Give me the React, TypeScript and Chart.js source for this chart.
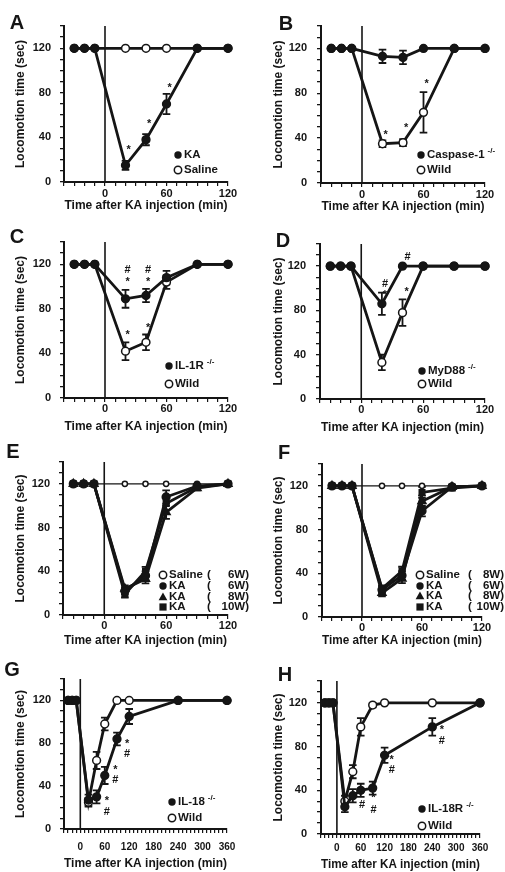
import React, { useEffect, useRef } from 'react';
import { Chart, registerables } from 'chart.js';

Chart.register(...registerables);

// ---------- data ----------
const timesShort = [-30, -20, -10, 20, 40, 60, 90, 120];
const timesLong = [-30, -20, -10, 20, 40, 60, 90, 120, 240, 360];
const yLabeled = [0, 40, 80, 120];
const xLabeledShort = [0, 60, 120];
const xLabeledLong = [0, 60, 120, 180, 240, 300, 360];

// A
const aKA = [120, 120, 120, 15, 38, 70, 120, 120];
const aKAErr = [0, 0, 0, 4, 5, 9, 0, 0];
const aSaline = [120, 120, 120, 120, 120, 120, 120, 120];
// B
const bCasp = [120, 120, 120, 113, 112, 120, 120, 120];
const bCaspErr = [0, 0, 0, 6, 6, 0, 0, 0];
const bWild = [120, 120, 120, 35, 36, 63, 120, 120];
const bWildErr = [0, 0, 0, 3, 3, 18, 0, 0];
// C
const cIL1R = [120, 120, 120, 89, 92, 108, 120, 120];
const cIL1RErr = [0, 0, 0, 8, 6, 6, 0, 0];
const cWild = [120, 120, 120, 42, 50, 104, 120, 120];
const cWildErr = [0, 0, 0, 8, 7, 6, 0, 0];
// D
const dMyD88 = [120, 120, 120, 86, 120, 120, 120, 120];
const dMyD88Err = [0, 0, 0, 10, 0, 0, 0, 0];
const dWild = [120, 120, 120, 33, 78, 120, 120, 120];
const dWildErr = [0, 0, 0, 7, 12, 0, 0, 0];
// E
const eSaline6 = [120, 120, 120, 120, 120, 120, 120, 120];
const eKA6 = [120, 120, 120, 22, 36, 108, 118, 120];
const eKA8 = [120, 120, 120, 24, 33, 94, 116, 120];
const eKA10 = [120, 120, 120, 19, 40, 102, 117, 120];
const eKAErr = [0, 0, 0, 3, 4, 6, 2, 0];
// F
const fSaline8 = [120, 120, 120, 120, 120, 120, 120, 120];
const fKA6 = [120, 120, 120, 25, 38, 97, 119, 120];
const fKA8 = [120, 120, 120, 22, 35, 106, 119, 120];
const fKA10 = [120, 120, 120, 26, 42, 114, 118, 120];
const fKAErr = [0, 0, 0, 3, 4, 5, 2, 0];
// G
const gIL18 = [120, 120, 120, 27, 30, 50, 84, 105, 120, 120];
const gIL18Err = [0, 0, 0, 5, 6, 8, 6, 7, 0, 0];
const gWild = [120, 120, 120, 25, 64, 98, 120, 120, 120, 120];
const gWildErr = [0, 0, 0, 4, 8, 6, 0, 0, 0, 0];
// H
const hIL18R = [120, 120, 120, 25, 35, 40, 42, 72, 98, 120];
const hIL18RErr = [0, 0, 0, 5, 6, 6, 6, 7, 8, 0];
const hWild = [120, 120, 120, 30, 57, 98, 118, 120, 120, 120];
const hWildErr = [0, 0, 0, 5, 6, 8, 2, 0, 0, 0];

// significance marks (data coordinates)
const aNotes = [{ x: 23, y: 29, t: '*' }, { x: 43, y: 52, t: '*' }, { x: 63, y: 84, t: '*' }];
const bNotes = [{ x: 23, y: 43, t: '*' }, { x: 43, y: 49, t: '*' }, { x: 63, y: 88, t: '*' }];
const cNotes = [
  { x: 22, y: 115, t: '#' }, { x: 22, y: 104, t: '*' },
  { x: 42, y: 115, t: '#' }, { x: 42, y: 104, t: '*' },
  { x: 22, y: 57, t: '*' }, { x: 42, y: 63, t: '*' },
];
const dNotes = [
  { x: 23, y: 104, t: '#' }, { x: 23, y: 94, t: '*' },
  { x: 45, y: 128, t: '#' }, { x: 44, y: 97, t: '*' },
];
const gNotes = [
  { x: 65, y: 26, t: '*' }, { x: 65, y: 16, t: '#' },
  { x: 86, y: 55, t: '*' }, { x: 86, y: 46, t: '#' },
  { x: 115, y: 79, t: '*' }, { x: 115, y: 70, t: '#' },
];
const hNotes = [
  { x: 63, y: 36, t: '*' }, { x: 63, y: 27, t: '#' },
  { x: 92, y: 33, t: '*' }, { x: 92, y: 22, t: '#' },
  { x: 138, y: 68, t: '*' }, { x: 138, y: 59, t: '#' },
  { x: 264, y: 95, t: '*' }, { x: 264, y: 85, t: '#' },
];

// ---------- styles / layout ----------
const INK = '#151515';
const FONT = '"Liberation Sans", Arial, Helvetica, sans-serif';
const X_TITLE = 'Time after KA injection (min)';
const Y_TITLE = 'Locomotion time (sec)';

type Kind = 'filled' | 'open' | 'openSmall' | 'tri' | 'square';
type Series = { values: number[]; err?: number[]; kind: Kind; thin?: boolean };
type LegendItem = { kind: Kind; label: string; sup?: string; paren?: string };
type Panel = {
  id: string;
  times: number[];
  xMax: number;
  xLabels: number[];
  series: Series[];
  notes: { x: number; y: number; t: string }[];
  legend: LegendItem[];
  box: { cx: number; cy: number; cw: number; ch: number; L: number; R: number; T: number; B: number };
  xLabelY: number; xTitleY: number; yTitleX: number; xTickFont: number;
  letter: [number, number];
  legendPos: { mx: number; ys: number[]; parenX?: number; endX?: number };
};

const panels: Panel[] = [
  {
    id: 'A', times: timesShort, xMax: 120, xLabels: xLabeledShort,
    series: [
      { values: aKA, err: aKAErr, kind: 'filled' },
      { values: aSaline, kind: 'open' },
    ],
    notes: aNotes,
    legend: [{ kind: 'filled', label: 'KA' }, { kind: 'open', label: 'Saline' }],
    box: { cx: 0, cy: 0, cw: 252, ch: 214, L: 64, R: 228, T: 26, B: 182 },
    xLabelY: 194, xTitleY: 206, yTitleX: 21, xTickFont: 11, letter: [17, 23],
    legendPos: { mx: 178, ys: [155, 170] },
  },
  {
    id: 'B', times: timesShort, xMax: 120, xLabels: xLabeledShort,
    series: [
      { values: bCasp, err: bCaspErr, kind: 'filled' },
      { values: bWild, err: bWildErr, kind: 'open' },
    ],
    notes: bNotes,
    legend: [{ kind: 'filled', label: 'Caspase-1', sup: '-/-' }, { kind: 'open', label: 'Wild' }],
    box: { cx: 252, cy: 0, cw: 253, ch: 214, L: 321, R: 485, T: 26, B: 183 },
    xLabelY: 195, xTitleY: 207, yTitleX: 279, xTickFont: 11, letter: [286, 24],
    legendPos: { mx: 421, ys: [155, 170] },
  },
  {
    id: 'C', times: timesShort, xMax: 120, xLabels: xLabeledShort,
    series: [
      { values: cIL1R, err: cIL1RErr, kind: 'filled' },
      { values: cWild, err: cWildErr, kind: 'open' },
    ],
    notes: cNotes,
    legend: [{ kind: 'filled', label: 'IL-1R', sup: '-/-' }, { kind: 'open', label: 'Wild' }],
    box: { cx: 0, cy: 214, cw: 252, ch: 222, L: 64, R: 228, T: 242, B: 398 },
    xLabelY: 409, xTitleY: 427, yTitleX: 21, xTickFont: 11, letter: [17, 237],
    legendPos: { mx: 169, ys: [366, 384] },
  },
  {
    id: 'D', times: timesShort, xMax: 120, xLabels: xLabeledShort,
    series: [
      { values: dMyD88, err: dMyD88Err, kind: 'filled' },
      { values: dWild, err: dWildErr, kind: 'open' },
    ],
    notes: dNotes,
    legend: [{ kind: 'filled', label: 'MyD88', sup: '-/-' }, { kind: 'open', label: 'Wild' }],
    box: { cx: 252, cy: 214, cw: 253, ch: 222, L: 320, R: 485, T: 244, B: 399 },
    xLabelY: 410, xTitleY: 428, yTitleX: 279, xTickFont: 11, letter: [283, 241],
    legendPos: { mx: 422, ys: [371, 384] },
  },
  {
    id: 'E', times: timesShort, xMax: 120, xLabels: xLabeledShort,
    series: [
      { values: eKA8, err: eKAErr, kind: 'tri' },
      { values: eKA6, err: eKAErr, kind: 'filled' },
      { values: eKA10, err: eKAErr, kind: 'square' },
      { values: eSaline6, kind: 'openSmall', thin: true },
    ],
    notes: [],
    legend: [
      { kind: 'open', label: 'Saline', paren: ' 6W)' },
      { kind: 'filled', label: 'KA', paren: ' 6W)' },
      { kind: 'tri', label: 'KA', paren: ' 8W)' },
      { kind: 'square', label: 'KA', paren: '10W)' },
    ],
    box: { cx: 0, cy: 436, cw: 252, ch: 213, L: 63, R: 228, T: 462, B: 615 },
    xLabelY: 626, xTitleY: 641, yTitleX: 21, xTickFont: 11, letter: [13, 452],
    legendPos: { mx: 163, ys: [575, 586, 597, 607], parenX: 207, endX: 249 },
  },
  {
    id: 'F', times: timesShort, xMax: 120, xLabels: xLabeledShort,
    series: [
      { values: fKA6, err: fKAErr, kind: 'filled' },
      { values: fKA8, err: fKAErr, kind: 'tri' },
      { values: fKA10, err: fKAErr, kind: 'square' },
      { values: fSaline8, kind: 'openSmall', thin: true },
    ],
    notes: [],
    legend: [
      { kind: 'open', label: 'Saline', paren: ' 8W)' },
      { kind: 'filled', label: 'KA', paren: ' 6W)' },
      { kind: 'tri', label: 'KA', paren: ' 8W)' },
      { kind: 'square', label: 'KA', paren: '10W)' },
    ],
    box: { cx: 252, cy: 436, cw: 253, ch: 213, L: 322, R: 482, T: 464, B: 617 },
    xLabelY: 628, xTitleY: 641, yTitleX: 279, xTickFont: 11, letter: [284, 453],
    legendPos: { mx: 420, ys: [575, 586, 596, 607], parenX: 468, endX: 504 },
  },
  {
    id: 'G', times: timesLong, xMax: 360, xLabels: xLabeledLong,
    series: [
      { values: gIL18, err: gIL18Err, kind: 'filled' },
      { values: gWild, err: gWildErr, kind: 'open' },
    ],
    notes: gNotes,
    legend: [{ kind: 'filled', label: 'IL-18', sup: '-/-' }, { kind: 'open', label: 'Wild' }],
    box: { cx: 0, cy: 649, cw: 252, ch: 223, L: 64, R: 227, T: 679, B: 829 },
    xLabelY: 847, xTitleY: 864, yTitleX: 21, xTickFont: 10, letter: [12, 670],
    legendPos: { mx: 172, ys: [802, 818] },
  },
  {
    id: 'H', times: timesLong, xMax: 360, xLabels: xLabeledLong,
    series: [
      { values: hIL18R, err: hIL18RErr, kind: 'filled' },
      { values: hWild, err: hWildErr, kind: 'open' },
    ],
    notes: hNotes,
    legend: [{ kind: 'filled', label: 'IL-18R', sup: '-/-' }, { kind: 'open', label: 'Wild' }],
    box: { cx: 252, cy: 649, cw: 253, ch: 223, L: 321, R: 480, T: 681, B: 834 },
    xLabelY: 848, xTitleY: 865, yTitleX: 279, xTickFont: 10, letter: [285, 675],
    legendPos: { mx: 422, ys: [809, 826] },
  },
];

// ---------- drawing helpers ----------
function drawMarker(ctx: CanvasRenderingContext2D, kind: Kind, x: number, y: number) {
  ctx.save();
  ctx.fillStyle = INK;
  ctx.strokeStyle = INK;
  ctx.lineWidth = 1.5;
  ctx.beginPath();
  if (kind === 'tri') {
    const r = 4.6;
    ctx.moveTo(x, y - r);
    ctx.lineTo(x + r * 0.95, y + r * 0.7);
    ctx.lineTo(x - r * 0.95, y + r * 0.7);
    ctx.closePath();
    ctx.fill();
  } else if (kind === 'square') {
    ctx.rect(x - 3.6, y - 3.6, 7.2, 7.2);
    ctx.fill();
  } else {
    ctx.arc(x, y, 3.7, 0, Math.PI * 2);
    if (kind === 'filled') ctx.fill();
    else {
      ctx.fillStyle = '#fff';
      ctx.fill();
      ctx.stroke();
    }
  }
  ctx.restore();
}

function makeDecor(p: Panel) {
  const { cx, cy } = p.box;
  return {
    id: 'decor' + p.id,
    beforeDatasetsDraw(chart: any) {
      const ctx: CanvasRenderingContext2D = chart.ctx;
      const xs = chart.scales.x;
      const ys = chart.scales.y;
      ctx.save();
      ctx.strokeStyle = INK;
      // vertical line at injection time
      ctx.lineWidth = 1.6;
      const x0 = xs.getPixelForValue(0);
      ctx.beginPath();
      ctx.moveTo(x0, ys.getPixelForValue(0));
      ctx.lineTo(x0, ys.getPixelForValue(140));
      ctx.stroke();
      // error bars
      ctx.lineWidth = 1.8;
      p.series.forEach((s) => {
        if (!s.err) return;
        s.values.forEach((v, i) => {
          const e = s.err![i];
          if (!e) return;
          const x = xs.getPixelForValue(p.times[i]);
          const y1 = ys.getPixelForValue(v + e);
          const y2 = ys.getPixelForValue(v - e);
          ctx.beginPath();
          ctx.moveTo(x, y1); ctx.lineTo(x, y2);
          ctx.moveTo(x - 3.8, y1); ctx.lineTo(x + 3.8, y1);
          ctx.moveTo(x - 3.8, y2); ctx.lineTo(x + 3.8, y2);
          ctx.stroke();
        });
      });
      ctx.restore();
    },
    afterDraw(chart: any) {
      const ctx: CanvasRenderingContext2D = chart.ctx;
      const xs = chart.scales.x;
      const ys = chart.scales.y;
      ctx.save();
      ctx.fillStyle = INK;
      // significance marks
      ctx.font = `bold 11px ${FONT}`;
      ctx.textAlign = 'center';
      ctx.textBaseline = 'middle';
      p.notes.forEach((n) => {
        ctx.fillText(n.t, xs.getPixelForValue(n.x), ys.getPixelForValue(n.y));
      });
      // panel letter
      ctx.font = `bold 20px ${FONT}`;
      ctx.fillText(p.id, p.letter[0] - cx, p.letter[1] - cy);
      // legend
      const lp = p.legendPos;
      p.legend.forEach((item, i) => {
        const mx = lp.mx - cx;
        const my = lp.ys[i] - cy;
        drawMarker(ctx, item.kind, mx, my);
        ctx.fillStyle = INK;
        ctx.font = `bold 11.5px ${FONT}`;
        ctx.textAlign = 'left';
        ctx.textBaseline = 'middle';
        const tx = mx + 6;
        ctx.fillText(item.label, tx, my);
        if (item.sup) {
          const w = ctx.measureText(item.label).width;
          ctx.font = `bold 8px ${FONT}`;
          ctx.fillText(item.sup, tx + w + 3, my - 4);
        }
        if (item.paren && lp.parenX && lp.endX) {
          ctx.font = `bold 11.5px ${FONT}`;
          ctx.textAlign = 'left';
          ctx.fillText('(', lp.parenX - cx, my);
          ctx.textAlign = 'right';
          ctx.fillText(item.paren, lp.endX - cx, my);
        }
      });
      ctx.restore();
    },
  };
}

function buildConfig(p: Panel): any {
  const { cx, cy, cw, ch, L, R, T, B } = p.box;
  const tickFont = { family: FONT, size: 11, weight: 'bold' as const };
  const titleFont = { family: FONT, size: 12, weight: 'bold' as const };
  const xLH = p.xTickFont * 1.2;
  const tLH = 12 * 1.2;
  const datasets = p.series.map((s) => ({
    data: p.times.map((t, i) => ({ x: t, y: s.values[i] })),
    borderColor: INK,
    borderWidth: s.thin ? 1.3 : 2.8,
    pointStyle: s.kind === 'tri' ? 'triangle' : s.kind === 'square' ? 'rect' : 'circle',
    pointRadius: s.kind === 'openSmall' ? 2.6 : s.kind === 'tri' ? 4.6 : 3.9,
    pointBackgroundColor: s.kind === 'open' || s.kind === 'openSmall' ? '#fff' : INK,
    pointBorderColor: INK,
    pointBorderWidth: 1.5,
    tension: 0,
    fill: false,
    clip: false,
  }));
  return {
    type: 'line',
    data: { datasets },
    plugins: [makeDecor(p)],
    options: {
      animation: false,
      responsive: false,
      events: [],
      layout: { padding: { left: 0, top: T - cy, right: cx + cw - R, bottom: 0 } },
      plugins: { legend: { display: false }, tooltip: { enabled: false } },
      scales: {
        x: {
          type: 'linear',
          min: -40,
          max: p.xMax,
          afterFit: (scale: any) => { scale.height = cy + ch - B; },
          border: { display: true, color: INK, width: 2 },
          grid: { display: true, drawOnChartArea: false, drawTicks: true, tickLength: 4, color: INK, lineWidth: 1.2 },
          ticks: {
            stepSize: 10,
            autoSkip: false,
            maxRotation: 0,
            minRotation: 0,
            color: INK,
            font: { ...tickFont, size: p.xTickFont },
            padding: Math.max(0, p.xLabelY - B - 4 - xLH / 2),
            callback: (v: number) => (p.xLabels.includes(v) ? String(v) : ''),
          },
          title: {
            display: true,
            text: X_TITLE,
            color: INK,
            font: titleFont,
            padding: { top: 0, bottom: cy + ch - p.xTitleY - tLH / 2 },
          },
        },
        y: {
          type: 'linear',
          min: 0,
          max: 140,
          afterFit: (scale: any) => { scale.width = L - cx; },
          border: { display: true, color: INK, width: 2 },
          grid: { display: true, drawOnChartArea: false, drawTicks: true, tickLength: 4, color: INK, lineWidth: 1.3 },
          ticks: {
            stepSize: 10,
            autoSkip: false,
            color: INK,
            font: tickFont,
            padding: cx === 0 ? 9 : 10,
            callback: (v: number) => (yLabeled.includes(v) ? String(v) : ''),
          },
          title: {
            display: true,
            text: Y_TITLE,
            color: INK,
            font: titleFont,
            padding: { top: p.yTitleX - cx - tLH / 2, bottom: 0 },
          },
        },
      },
    },
  };
}

function PanelChart({ p }: { p: Panel }) {
  const ref = useRef<HTMLCanvasElement | null>(null);
  useEffect(() => {
    if (!ref.current) return;
    const chart = new Chart(ref.current, buildConfig(p));
    return () => chart.destroy();
  }, [p]);
  const { cx, cy, cw, ch } = p.box;
  return (
    <canvas
      ref={ref}
      width={cw}
      height={ch}
      style={{ position: 'absolute', left: cx, top: cy, width: cw, height: ch }}
    />
  );
}

export default function App() {
  return (
    <div style={{ position: 'absolute', left: 0, top: 0, width: 505, height: 872, background: '#fff', overflow: 'hidden' }}>
      {panels.map((p) => (
        <PanelChart key={p.id} p={p} />
      ))}
    </div>
  );
}
